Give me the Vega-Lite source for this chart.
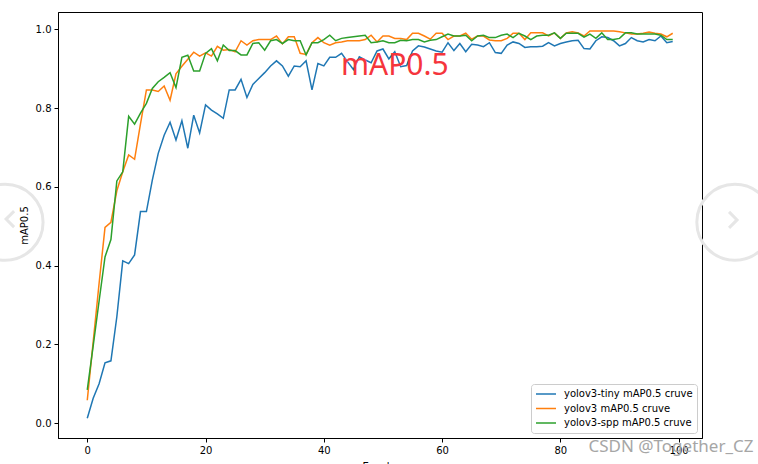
{
  "$schema": "https://vega.github.io/schema/vega-lite/v6.json",
  "autosize": "none",
  "width": 644,
  "height": 426,
  "padding": {"left": 58, "top": 12, "right": 56, "bottom": 26},
  "background": "white",
  "title": {"text": "YOLOV3 Series Different Models mAP0.5 Compare Cruve", "font": "DejaVu Sans", "fontSize": 12, "fontWeight": "normal", "color": "#000000", "baseline": "alphabetic", "offset": 5, "anchor": "middle"},
  "config": {
    "view": {"stroke": "#000000", "strokeWidth": 1},
    "axis": {"domainColor": "#000000", "tickColor": "#000000", "labelColor": "#000000", "titleColor": "#000000", "labelFont": "DejaVu Sans", "titleFont": "DejaVu Sans", "labelFontSize": 10, "titleFontSize": 10, "titleFontWeight": "normal", "grid": false, "tickSize": 4, "labelPadding": 3}
  },
  "layer": [
    {
      "data": {"values": [
        {"epoch": 0, "model": "yolov3-tiny mAP0.5 cruve", "map": 0.012},
        {"epoch": 1, "model": "yolov3-tiny mAP0.5 cruve", "map": 0.063},
        {"epoch": 2, "model": "yolov3-tiny mAP0.5 cruve", "map": 0.100},
        {"epoch": 3, "model": "yolov3-tiny mAP0.5 cruve", "map": 0.153},
        {"epoch": 4, "model": "yolov3-tiny mAP0.5 cruve", "map": 0.158},
        {"epoch": 5, "model": "yolov3-tiny mAP0.5 cruve", "map": 0.270},
        {"epoch": 6, "model": "yolov3-tiny mAP0.5 cruve", "map": 0.412},
        {"epoch": 7, "model": "yolov3-tiny mAP0.5 cruve", "map": 0.405},
        {"epoch": 8, "model": "yolov3-tiny mAP0.5 cruve", "map": 0.427},
        {"epoch": 9, "model": "yolov3-tiny mAP0.5 cruve", "map": 0.537},
        {"epoch": 10, "model": "yolov3-tiny mAP0.5 cruve", "map": 0.537},
        {"epoch": 11, "model": "yolov3-tiny mAP0.5 cruve", "map": 0.617},
        {"epoch": 12, "model": "yolov3-tiny mAP0.5 cruve", "map": 0.685},
        {"epoch": 13, "model": "yolov3-tiny mAP0.5 cruve", "map": 0.731},
        {"epoch": 14, "model": "yolov3-tiny mAP0.5 cruve", "map": 0.764},
        {"epoch": 15, "model": "yolov3-tiny mAP0.5 cruve", "map": 0.719},
        {"epoch": 16, "model": "yolov3-tiny mAP0.5 cruve", "map": 0.768},
        {"epoch": 17, "model": "yolov3-tiny mAP0.5 cruve", "map": 0.698},
        {"epoch": 18, "model": "yolov3-tiny mAP0.5 cruve", "map": 0.782},
        {"epoch": 19, "model": "yolov3-tiny mAP0.5 cruve", "map": 0.737},
        {"epoch": 20, "model": "yolov3-tiny mAP0.5 cruve", "map": 0.808},
        {"epoch": 21, "model": "yolov3-tiny mAP0.5 cruve", "map": 0.795},
        {"epoch": 22, "model": "yolov3-tiny mAP0.5 cruve", "map": 0.785},
        {"epoch": 23, "model": "yolov3-tiny mAP0.5 cruve", "map": 0.774},
        {"epoch": 24, "model": "yolov3-tiny mAP0.5 cruve", "map": 0.846},
        {"epoch": 25, "model": "yolov3-tiny mAP0.5 cruve", "map": 0.846},
        {"epoch": 26, "model": "yolov3-tiny mAP0.5 cruve", "map": 0.873},
        {"epoch": 27, "model": "yolov3-tiny mAP0.5 cruve", "map": 0.827},
        {"epoch": 28, "model": "yolov3-tiny mAP0.5 cruve", "map": 0.860},
        {"epoch": 29, "model": "yolov3-tiny mAP0.5 cruve", "map": 0.875},
        {"epoch": 30, "model": "yolov3-tiny mAP0.5 cruve", "map": 0.890},
        {"epoch": 31, "model": "yolov3-tiny mAP0.5 cruve", "map": 0.907},
        {"epoch": 32, "model": "yolov3-tiny mAP0.5 cruve", "map": 0.920},
        {"epoch": 33, "model": "yolov3-tiny mAP0.5 cruve", "map": 0.907},
        {"epoch": 34, "model": "yolov3-tiny mAP0.5 cruve", "map": 0.881},
        {"epoch": 35, "model": "yolov3-tiny mAP0.5 cruve", "map": 0.907},
        {"epoch": 36, "model": "yolov3-tiny mAP0.5 cruve", "map": 0.905},
        {"epoch": 37, "model": "yolov3-tiny mAP0.5 cruve", "map": 0.920},
        {"epoch": 38, "model": "yolov3-tiny mAP0.5 cruve", "map": 0.846},
        {"epoch": 39, "model": "yolov3-tiny mAP0.5 cruve", "map": 0.913},
        {"epoch": 40, "model": "yolov3-tiny mAP0.5 cruve", "map": 0.907},
        {"epoch": 41, "model": "yolov3-tiny mAP0.5 cruve", "map": 0.929},
        {"epoch": 42, "model": "yolov3-tiny mAP0.5 cruve", "map": 0.929},
        {"epoch": 43, "model": "yolov3-tiny mAP0.5 cruve", "map": 0.939},
        {"epoch": 44, "model": "yolov3-tiny mAP0.5 cruve", "map": 0.918},
        {"epoch": 45, "model": "yolov3-tiny mAP0.5 cruve", "map": 0.898},
        {"epoch": 46, "model": "yolov3-tiny mAP0.5 cruve", "map": 0.930},
        {"epoch": 47, "model": "yolov3-tiny mAP0.5 cruve", "map": 0.922},
        {"epoch": 48, "model": "yolov3-tiny mAP0.5 cruve", "map": 0.915},
        {"epoch": 49, "model": "yolov3-tiny mAP0.5 cruve", "map": 0.945},
        {"epoch": 50, "model": "yolov3-tiny mAP0.5 cruve", "map": 0.950},
        {"epoch": 51, "model": "yolov3-tiny mAP0.5 cruve", "map": 0.925},
        {"epoch": 52, "model": "yolov3-tiny mAP0.5 cruve", "map": 0.943},
        {"epoch": 53, "model": "yolov3-tiny mAP0.5 cruve", "map": 0.905},
        {"epoch": 54, "model": "yolov3-tiny mAP0.5 cruve", "map": 0.908},
        {"epoch": 55, "model": "yolov3-tiny mAP0.5 cruve", "map": 0.945},
        {"epoch": 56, "model": "yolov3-tiny mAP0.5 cruve", "map": 0.958},
        {"epoch": 57, "model": "yolov3-tiny mAP0.5 cruve", "map": 0.955},
        {"epoch": 58, "model": "yolov3-tiny mAP0.5 cruve", "map": 0.950},
        {"epoch": 59, "model": "yolov3-tiny mAP0.5 cruve", "map": 0.945},
        {"epoch": 60, "model": "yolov3-tiny mAP0.5 cruve", "map": 0.942},
        {"epoch": 61, "model": "yolov3-tiny mAP0.5 cruve", "map": 0.966},
        {"epoch": 62, "model": "yolov3-tiny mAP0.5 cruve", "map": 0.946},
        {"epoch": 63, "model": "yolov3-tiny mAP0.5 cruve", "map": 0.964},
        {"epoch": 64, "model": "yolov3-tiny mAP0.5 cruve", "map": 0.943},
        {"epoch": 65, "model": "yolov3-tiny mAP0.5 cruve", "map": 0.962},
        {"epoch": 66, "model": "yolov3-tiny mAP0.5 cruve", "map": 0.960},
        {"epoch": 67, "model": "yolov3-tiny mAP0.5 cruve", "map": 0.956},
        {"epoch": 68, "model": "yolov3-tiny mAP0.5 cruve", "map": 0.966},
        {"epoch": 69, "model": "yolov3-tiny mAP0.5 cruve", "map": 0.941},
        {"epoch": 70, "model": "yolov3-tiny mAP0.5 cruve", "map": 0.939},
        {"epoch": 71, "model": "yolov3-tiny mAP0.5 cruve", "map": 0.960},
        {"epoch": 72, "model": "yolov3-tiny mAP0.5 cruve", "map": 0.968},
        {"epoch": 73, "model": "yolov3-tiny mAP0.5 cruve", "map": 0.964},
        {"epoch": 74, "model": "yolov3-tiny mAP0.5 cruve", "map": 0.954},
        {"epoch": 75, "model": "yolov3-tiny mAP0.5 cruve", "map": 0.956},
        {"epoch": 76, "model": "yolov3-tiny mAP0.5 cruve", "map": 0.956},
        {"epoch": 77, "model": "yolov3-tiny mAP0.5 cruve", "map": 0.957},
        {"epoch": 78, "model": "yolov3-tiny mAP0.5 cruve", "map": 0.966},
        {"epoch": 79, "model": "yolov3-tiny mAP0.5 cruve", "map": 0.958},
        {"epoch": 80, "model": "yolov3-tiny mAP0.5 cruve", "map": 0.964},
        {"epoch": 81, "model": "yolov3-tiny mAP0.5 cruve", "map": 0.968},
        {"epoch": 82, "model": "yolov3-tiny mAP0.5 cruve", "map": 0.971},
        {"epoch": 83, "model": "yolov3-tiny mAP0.5 cruve", "map": 0.972},
        {"epoch": 84, "model": "yolov3-tiny mAP0.5 cruve", "map": 0.951},
        {"epoch": 85, "model": "yolov3-tiny mAP0.5 cruve", "map": 0.950},
        {"epoch": 86, "model": "yolov3-tiny mAP0.5 cruve", "map": 0.971},
        {"epoch": 87, "model": "yolov3-tiny mAP0.5 cruve", "map": 0.981},
        {"epoch": 88, "model": "yolov3-tiny mAP0.5 cruve", "map": 0.979},
        {"epoch": 89, "model": "yolov3-tiny mAP0.5 cruve", "map": 0.971},
        {"epoch": 90, "model": "yolov3-tiny mAP0.5 cruve", "map": 0.958},
        {"epoch": 91, "model": "yolov3-tiny mAP0.5 cruve", "map": 0.964},
        {"epoch": 92, "model": "yolov3-tiny mAP0.5 cruve", "map": 0.979},
        {"epoch": 93, "model": "yolov3-tiny mAP0.5 cruve", "map": 0.971},
        {"epoch": 94, "model": "yolov3-tiny mAP0.5 cruve", "map": 0.968},
        {"epoch": 95, "model": "yolov3-tiny mAP0.5 cruve", "map": 0.974},
        {"epoch": 96, "model": "yolov3-tiny mAP0.5 cruve", "map": 0.971},
        {"epoch": 97, "model": "yolov3-tiny mAP0.5 cruve", "map": 0.983},
        {"epoch": 98, "model": "yolov3-tiny mAP0.5 cruve", "map": 0.966},
        {"epoch": 99, "model": "yolov3-tiny mAP0.5 cruve", "map": 0.969},
        {"epoch": 0, "model": "yolov3 mAP0.5 cruve", "map": 0.058},
        {"epoch": 1, "model": "yolov3 mAP0.5 cruve", "map": 0.206},
        {"epoch": 2, "model": "yolov3 mAP0.5 cruve", "map": 0.355},
        {"epoch": 3, "model": "yolov3 mAP0.5 cruve", "map": 0.497},
        {"epoch": 4, "model": "yolov3 mAP0.5 cruve", "map": 0.510},
        {"epoch": 5, "model": "yolov3 mAP0.5 cruve", "map": 0.590},
        {"epoch": 6, "model": "yolov3 mAP0.5 cruve", "map": 0.638},
        {"epoch": 7, "model": "yolov3 mAP0.5 cruve", "map": 0.681},
        {"epoch": 8, "model": "yolov3 mAP0.5 cruve", "map": 0.670},
        {"epoch": 9, "model": "yolov3 mAP0.5 cruve", "map": 0.760},
        {"epoch": 10, "model": "yolov3 mAP0.5 cruve", "map": 0.846},
        {"epoch": 11, "model": "yolov3 mAP0.5 cruve", "map": 0.846},
        {"epoch": 12, "model": "yolov3 mAP0.5 cruve", "map": 0.842},
        {"epoch": 13, "model": "yolov3 mAP0.5 cruve", "map": 0.856},
        {"epoch": 14, "model": "yolov3 mAP0.5 cruve", "map": 0.820},
        {"epoch": 15, "model": "yolov3 mAP0.5 cruve", "map": 0.887},
        {"epoch": 16, "model": "yolov3 mAP0.5 cruve", "map": 0.906},
        {"epoch": 17, "model": "yolov3 mAP0.5 cruve", "map": 0.924},
        {"epoch": 18, "model": "yolov3 mAP0.5 cruve", "map": 0.942},
        {"epoch": 19, "model": "yolov3 mAP0.5 cruve", "map": 0.932},
        {"epoch": 20, "model": "yolov3 mAP0.5 cruve", "map": 0.940},
        {"epoch": 21, "model": "yolov3 mAP0.5 cruve", "map": 0.932},
        {"epoch": 22, "model": "yolov3 mAP0.5 cruve", "map": 0.957},
        {"epoch": 23, "model": "yolov3 mAP0.5 cruve", "map": 0.947},
        {"epoch": 24, "model": "yolov3 mAP0.5 cruve", "map": 0.949},
        {"epoch": 25, "model": "yolov3 mAP0.5 cruve", "map": 0.943},
        {"epoch": 26, "model": "yolov3 mAP0.5 cruve", "map": 0.971},
        {"epoch": 27, "model": "yolov3 mAP0.5 cruve", "map": 0.960},
        {"epoch": 28, "model": "yolov3 mAP0.5 cruve", "map": 0.971},
        {"epoch": 29, "model": "yolov3 mAP0.5 cruve", "map": 0.974},
        {"epoch": 30, "model": "yolov3 mAP0.5 cruve", "map": 0.974},
        {"epoch": 31, "model": "yolov3 mAP0.5 cruve", "map": 0.974},
        {"epoch": 32, "model": "yolov3 mAP0.5 cruve", "map": 0.983},
        {"epoch": 33, "model": "yolov3 mAP0.5 cruve", "map": 0.963},
        {"epoch": 34, "model": "yolov3 mAP0.5 cruve", "map": 0.981},
        {"epoch": 35, "model": "yolov3 mAP0.5 cruve", "map": 0.981},
        {"epoch": 36, "model": "yolov3 mAP0.5 cruve", "map": 0.939},
        {"epoch": 37, "model": "yolov3 mAP0.5 cruve", "map": 0.936},
        {"epoch": 38, "model": "yolov3 mAP0.5 cruve", "map": 0.966},
        {"epoch": 39, "model": "yolov3 mAP0.5 cruve", "map": 0.979},
        {"epoch": 40, "model": "yolov3 mAP0.5 cruve", "map": 0.966},
        {"epoch": 41, "model": "yolov3 mAP0.5 cruve", "map": 0.960},
        {"epoch": 42, "model": "yolov3 mAP0.5 cruve", "map": 0.966},
        {"epoch": 43, "model": "yolov3 mAP0.5 cruve", "map": 0.968},
        {"epoch": 44, "model": "yolov3 mAP0.5 cruve", "map": 0.971},
        {"epoch": 45, "model": "yolov3 mAP0.5 cruve", "map": 0.971},
        {"epoch": 46, "model": "yolov3 mAP0.5 cruve", "map": 0.971},
        {"epoch": 47, "model": "yolov3 mAP0.5 cruve", "map": 0.974},
        {"epoch": 48, "model": "yolov3 mAP0.5 cruve", "map": 0.985},
        {"epoch": 49, "model": "yolov3 mAP0.5 cruve", "map": 0.968},
        {"epoch": 50, "model": "yolov3 mAP0.5 cruve", "map": 0.983},
        {"epoch": 51, "model": "yolov3 mAP0.5 cruve", "map": 0.983},
        {"epoch": 52, "model": "yolov3 mAP0.5 cruve", "map": 0.977},
        {"epoch": 53, "model": "yolov3 mAP0.5 cruve", "map": 0.977},
        {"epoch": 54, "model": "yolov3 mAP0.5 cruve", "map": 0.974},
        {"epoch": 55, "model": "yolov3 mAP0.5 cruve", "map": 0.990},
        {"epoch": 56, "model": "yolov3 mAP0.5 cruve", "map": 0.990},
        {"epoch": 57, "model": "yolov3 mAP0.5 cruve", "map": 0.983},
        {"epoch": 58, "model": "yolov3 mAP0.5 cruve", "map": 0.975},
        {"epoch": 59, "model": "yolov3 mAP0.5 cruve", "map": 0.990},
        {"epoch": 60, "model": "yolov3 mAP0.5 cruve", "map": 0.990},
        {"epoch": 61, "model": "yolov3 mAP0.5 cruve", "map": 0.974},
        {"epoch": 62, "model": "yolov3 mAP0.5 cruve", "map": 0.983},
        {"epoch": 63, "model": "yolov3 mAP0.5 cruve", "map": 0.983},
        {"epoch": 64, "model": "yolov3 mAP0.5 cruve", "map": 0.990},
        {"epoch": 65, "model": "yolov3 mAP0.5 cruve", "map": 0.975},
        {"epoch": 66, "model": "yolov3 mAP0.5 cruve", "map": 0.983},
        {"epoch": 67, "model": "yolov3 mAP0.5 cruve", "map": 0.983},
        {"epoch": 68, "model": "yolov3 mAP0.5 cruve", "map": 0.973},
        {"epoch": 69, "model": "yolov3 mAP0.5 cruve", "map": 0.971},
        {"epoch": 70, "model": "yolov3 mAP0.5 cruve", "map": 0.971},
        {"epoch": 71, "model": "yolov3 mAP0.5 cruve", "map": 0.977},
        {"epoch": 72, "model": "yolov3 mAP0.5 cruve", "map": 0.990},
        {"epoch": 73, "model": "yolov3 mAP0.5 cruve", "map": 0.990},
        {"epoch": 74, "model": "yolov3 mAP0.5 cruve", "map": 0.974},
        {"epoch": 75, "model": "yolov3 mAP0.5 cruve", "map": 0.991},
        {"epoch": 76, "model": "yolov3 mAP0.5 cruve", "map": 0.991},
        {"epoch": 77, "model": "yolov3 mAP0.5 cruve", "map": 0.991},
        {"epoch": 78, "model": "yolov3 mAP0.5 cruve", "map": 0.983},
        {"epoch": 79, "model": "yolov3 mAP0.5 cruve", "map": 0.991},
        {"epoch": 80, "model": "yolov3 mAP0.5 cruve", "map": 0.977},
        {"epoch": 81, "model": "yolov3 mAP0.5 cruve", "map": 0.991},
        {"epoch": 82, "model": "yolov3 mAP0.5 cruve", "map": 0.994},
        {"epoch": 83, "model": "yolov3 mAP0.5 cruve", "map": 0.991},
        {"epoch": 84, "model": "yolov3 mAP0.5 cruve", "map": 0.983},
        {"epoch": 85, "model": "yolov3 mAP0.5 cruve", "map": 0.996},
        {"epoch": 86, "model": "yolov3 mAP0.5 cruve", "map": 0.996},
        {"epoch": 87, "model": "yolov3 mAP0.5 cruve", "map": 0.996},
        {"epoch": 88, "model": "yolov3 mAP0.5 cruve", "map": 0.996},
        {"epoch": 89, "model": "yolov3 mAP0.5 cruve", "map": 0.996},
        {"epoch": 90, "model": "yolov3 mAP0.5 cruve", "map": 0.994},
        {"epoch": 91, "model": "yolov3 mAP0.5 cruve", "map": 0.991},
        {"epoch": 92, "model": "yolov3 mAP0.5 cruve", "map": 0.988},
        {"epoch": 93, "model": "yolov3 mAP0.5 cruve", "map": 0.988},
        {"epoch": 94, "model": "yolov3 mAP0.5 cruve", "map": 0.990},
        {"epoch": 95, "model": "yolov3 mAP0.5 cruve", "map": 0.993},
        {"epoch": 96, "model": "yolov3 mAP0.5 cruve", "map": 0.990},
        {"epoch": 97, "model": "yolov3 mAP0.5 cruve", "map": 0.988},
        {"epoch": 98, "model": "yolov3 mAP0.5 cruve", "map": 0.981},
        {"epoch": 99, "model": "yolov3 mAP0.5 cruve", "map": 0.990},
        {"epoch": 0, "model": "yolov3-spp mAP0.5 cruve", "map": 0.084},
        {"epoch": 1, "model": "yolov3-spp mAP0.5 cruve", "map": 0.196},
        {"epoch": 2, "model": "yolov3-spp mAP0.5 cruve", "map": 0.310},
        {"epoch": 3, "model": "yolov3-spp mAP0.5 cruve", "map": 0.422},
        {"epoch": 4, "model": "yolov3-spp mAP0.5 cruve", "map": 0.466},
        {"epoch": 5, "model": "yolov3-spp mAP0.5 cruve", "map": 0.615},
        {"epoch": 6, "model": "yolov3-spp mAP0.5 cruve", "map": 0.638},
        {"epoch": 7, "model": "yolov3-spp mAP0.5 cruve", "map": 0.779},
        {"epoch": 8, "model": "yolov3-spp mAP0.5 cruve", "map": 0.759},
        {"epoch": 9, "model": "yolov3-spp mAP0.5 cruve", "map": 0.787},
        {"epoch": 10, "model": "yolov3-spp mAP0.5 cruve", "map": 0.812},
        {"epoch": 11, "model": "yolov3-spp mAP0.5 cruve", "map": 0.850},
        {"epoch": 12, "model": "yolov3-spp mAP0.5 cruve", "map": 0.867},
        {"epoch": 13, "model": "yolov3-spp mAP0.5 cruve", "map": 0.878},
        {"epoch": 14, "model": "yolov3-spp mAP0.5 cruve", "map": 0.890},
        {"epoch": 15, "model": "yolov3-spp mAP0.5 cruve", "map": 0.852},
        {"epoch": 16, "model": "yolov3-spp mAP0.5 cruve", "map": 0.929},
        {"epoch": 17, "model": "yolov3-spp mAP0.5 cruve", "map": 0.934},
        {"epoch": 18, "model": "yolov3-spp mAP0.5 cruve", "map": 0.894},
        {"epoch": 19, "model": "yolov3-spp mAP0.5 cruve", "map": 0.894},
        {"epoch": 20, "model": "yolov3-spp mAP0.5 cruve", "map": 0.939},
        {"epoch": 21, "model": "yolov3-spp mAP0.5 cruve", "map": 0.951},
        {"epoch": 22, "model": "yolov3-spp mAP0.5 cruve", "map": 0.920},
        {"epoch": 23, "model": "yolov3-spp mAP0.5 cruve", "map": 0.960},
        {"epoch": 24, "model": "yolov3-spp mAP0.5 cruve", "map": 0.946},
        {"epoch": 25, "model": "yolov3-spp mAP0.5 cruve", "map": 0.946},
        {"epoch": 26, "model": "yolov3-spp mAP0.5 cruve", "map": 0.935},
        {"epoch": 27, "model": "yolov3-spp mAP0.5 cruve", "map": 0.935},
        {"epoch": 28, "model": "yolov3-spp mAP0.5 cruve", "map": 0.964},
        {"epoch": 29, "model": "yolov3-spp mAP0.5 cruve", "map": 0.966},
        {"epoch": 30, "model": "yolov3-spp mAP0.5 cruve", "map": 0.947},
        {"epoch": 31, "model": "yolov3-spp mAP0.5 cruve", "map": 0.971},
        {"epoch": 32, "model": "yolov3-spp mAP0.5 cruve", "map": 0.974},
        {"epoch": 33, "model": "yolov3-spp mAP0.5 cruve", "map": 0.964},
        {"epoch": 34, "model": "yolov3-spp mAP0.5 cruve", "map": 0.974},
        {"epoch": 35, "model": "yolov3-spp mAP0.5 cruve", "map": 0.971},
        {"epoch": 36, "model": "yolov3-spp mAP0.5 cruve", "map": 0.971},
        {"epoch": 37, "model": "yolov3-spp mAP0.5 cruve", "map": 0.935},
        {"epoch": 38, "model": "yolov3-spp mAP0.5 cruve", "map": 0.966},
        {"epoch": 39, "model": "yolov3-spp mAP0.5 cruve", "map": 0.966},
        {"epoch": 40, "model": "yolov3-spp mAP0.5 cruve", "map": 0.974},
        {"epoch": 41, "model": "yolov3-spp mAP0.5 cruve", "map": 0.985},
        {"epoch": 42, "model": "yolov3-spp mAP0.5 cruve", "map": 0.971},
        {"epoch": 43, "model": "yolov3-spp mAP0.5 cruve", "map": 0.977},
        {"epoch": 44, "model": "yolov3-spp mAP0.5 cruve", "map": 0.979},
        {"epoch": 45, "model": "yolov3-spp mAP0.5 cruve", "map": 0.981},
        {"epoch": 46, "model": "yolov3-spp mAP0.5 cruve", "map": 0.983},
        {"epoch": 47, "model": "yolov3-spp mAP0.5 cruve", "map": 0.985},
        {"epoch": 48, "model": "yolov3-spp mAP0.5 cruve", "map": 0.966},
        {"epoch": 49, "model": "yolov3-spp mAP0.5 cruve", "map": 0.968},
        {"epoch": 50, "model": "yolov3-spp mAP0.5 cruve", "map": 0.971},
        {"epoch": 51, "model": "yolov3-spp mAP0.5 cruve", "map": 0.966},
        {"epoch": 52, "model": "yolov3-spp mAP0.5 cruve", "map": 0.966},
        {"epoch": 53, "model": "yolov3-spp mAP0.5 cruve", "map": 0.972},
        {"epoch": 54, "model": "yolov3-spp mAP0.5 cruve", "map": 0.971},
        {"epoch": 55, "model": "yolov3-spp mAP0.5 cruve", "map": 0.974},
        {"epoch": 56, "model": "yolov3-spp mAP0.5 cruve", "map": 0.974},
        {"epoch": 57, "model": "yolov3-spp mAP0.5 cruve", "map": 0.968},
        {"epoch": 58, "model": "yolov3-spp mAP0.5 cruve", "map": 0.972},
        {"epoch": 59, "model": "yolov3-spp mAP0.5 cruve", "map": 0.974},
        {"epoch": 60, "model": "yolov3-spp mAP0.5 cruve", "map": 0.981},
        {"epoch": 61, "model": "yolov3-spp mAP0.5 cruve", "map": 0.988},
        {"epoch": 62, "model": "yolov3-spp mAP0.5 cruve", "map": 0.983},
        {"epoch": 63, "model": "yolov3-spp mAP0.5 cruve", "map": 0.983},
        {"epoch": 64, "model": "yolov3-spp mAP0.5 cruve", "map": 0.985},
        {"epoch": 65, "model": "yolov3-spp mAP0.5 cruve", "map": 0.971},
        {"epoch": 66, "model": "yolov3-spp mAP0.5 cruve", "map": 0.983},
        {"epoch": 67, "model": "yolov3-spp mAP0.5 cruve", "map": 0.985},
        {"epoch": 68, "model": "yolov3-spp mAP0.5 cruve", "map": 0.979},
        {"epoch": 69, "model": "yolov3-spp mAP0.5 cruve", "map": 0.979},
        {"epoch": 70, "model": "yolov3-spp mAP0.5 cruve", "map": 0.985},
        {"epoch": 71, "model": "yolov3-spp mAP0.5 cruve", "map": 0.988},
        {"epoch": 72, "model": "yolov3-spp mAP0.5 cruve", "map": 0.979},
        {"epoch": 73, "model": "yolov3-spp mAP0.5 cruve", "map": 0.990},
        {"epoch": 74, "model": "yolov3-spp mAP0.5 cruve", "map": 0.983},
        {"epoch": 75, "model": "yolov3-spp mAP0.5 cruve", "map": 0.974},
        {"epoch": 76, "model": "yolov3-spp mAP0.5 cruve", "map": 0.983},
        {"epoch": 77, "model": "yolov3-spp mAP0.5 cruve", "map": 0.985},
        {"epoch": 78, "model": "yolov3-spp mAP0.5 cruve", "map": 0.985},
        {"epoch": 79, "model": "yolov3-spp mAP0.5 cruve", "map": 0.991},
        {"epoch": 80, "model": "yolov3-spp mAP0.5 cruve", "map": 0.977},
        {"epoch": 81, "model": "yolov3-spp mAP0.5 cruve", "map": 0.990},
        {"epoch": 82, "model": "yolov3-spp mAP0.5 cruve", "map": 0.990},
        {"epoch": 83, "model": "yolov3-spp mAP0.5 cruve", "map": 0.990},
        {"epoch": 84, "model": "yolov3-spp mAP0.5 cruve", "map": 0.980},
        {"epoch": 85, "model": "yolov3-spp mAP0.5 cruve", "map": 0.988},
        {"epoch": 86, "model": "yolov3-spp mAP0.5 cruve", "map": 0.977},
        {"epoch": 87, "model": "yolov3-spp mAP0.5 cruve", "map": 0.991},
        {"epoch": 88, "model": "yolov3-spp mAP0.5 cruve", "map": 0.974},
        {"epoch": 89, "model": "yolov3-spp mAP0.5 cruve", "map": 0.974},
        {"epoch": 90, "model": "yolov3-spp mAP0.5 cruve", "map": 0.977},
        {"epoch": 91, "model": "yolov3-spp mAP0.5 cruve", "map": 0.991},
        {"epoch": 92, "model": "yolov3-spp mAP0.5 cruve", "map": 0.991},
        {"epoch": 93, "model": "yolov3-spp mAP0.5 cruve", "map": 0.988},
        {"epoch": 94, "model": "yolov3-spp mAP0.5 cruve", "map": 0.988},
        {"epoch": 95, "model": "yolov3-spp mAP0.5 cruve", "map": 0.988},
        {"epoch": 96, "model": "yolov3-spp mAP0.5 cruve", "map": 0.988},
        {"epoch": 97, "model": "yolov3-spp mAP0.5 cruve", "map": 0.985},
        {"epoch": 98, "model": "yolov3-spp mAP0.5 cruve", "map": 0.974},
        {"epoch": 99, "model": "yolov3-spp mAP0.5 cruve", "map": 0.974}
      ]},
      "mark": {"type": "line", "strokeWidth": 1.5},
      "encoding": {
        "x": {"field": "epoch", "type": "quantitative", "scale": {"domain": [-4.95, 103.95], "nice": false, "zero": false}, "axis": {"values": [0, 20, 40, 60, 80, 100], "title": "Epochs", "titlePadding": 6}},
        "y": {"field": "map", "type": "quantitative", "scale": {"domain": [-0.038, 1.044], "nice": false, "zero": false}, "axis": {"values": [0, 0.2, 0.4, 0.6, 0.8, 1.0], "format": ".1f", "title": "mAP0.5", "titlePadding": 6}},
        "color": {"field": "model", "type": "nominal", "sort": null,
          "scale": {"domain": ["yolov3-tiny mAP0.5 cruve", "yolov3 mAP0.5 cruve", "yolov3-spp mAP0.5 cruve"], "range": ["#1f77b4", "#ff7f0e", "#2ca02c"]},
          "legend": {"title": null, "orient": "bottom-right", "offset": 5, "symbolType": "stroke", "symbolStrokeWidth": 1.5, "symbolSize": 400, "labelFont": "DejaVu Sans", "labelFontSize": 10, "labelColor": "#000000", "strokeColor": "#cccccc", "fillColor": "white", "padding": 4, "cornerRadius": 3, "rowPadding": 2.5, "clipHeight": 12, "labelOffset": 7}
        }
      }
    },
    {
      "data": {"values": [{"epoch": 52, "map": 0.884, "label": "mAP0.5"}]},
      "mark": {"type": "text", "font": "Noto Sans", "fontSize": 30, "color": "#f5353c", "align": "center", "baseline": "alphabetic"},
      "encoding": {"x": {"field": "epoch", "type": "quantitative"}, "y": {"field": "map", "type": "quantitative"}, "text": {"field": "label"}}
    },
    {
      "data": {"values": [{"epoch": 84.75, "map": -0.0737, "label": "CSDN @Together_CZ"}]},
      "mark": {"type": "text", "font": "Noto Sans", "fontSize": 17, "color": "#a6a6a6", "align": "left", "baseline": "alphabetic"},
      "encoding": {"x": {"field": "epoch", "type": "quantitative"}, "y": {"field": "map", "type": "quantitative"}, "text": {"field": "label"}}
    },
    {
      "data": {"values": [{"epoch": -13.9, "map": 0.51}, {"epoch": 109.5, "map": 0.51}]},
      "mark": {"type": "point", "shape": "circle", "size": 5776, "filled": false, "stroke": "#e6e6e6", "strokeWidth": 3, "opacity": 1},
      "encoding": {"x": {"field": "epoch", "type": "quantitative"}, "y": {"field": "map", "type": "quantitative"}}
    },
    {
      "data": {"values": [{"epoch": -13.05, "map": 0.518, "dir": "l"}]},
      "mark": {"type": "point", "shape": "M 0.25 -0.5 L -0.25 0 L 0.25 0.5", "size": 1024, "filled": false, "stroke": "#e6e6e6", "strokeWidth": 3, "opacity": 1},
      "encoding": {"x": {"field": "epoch", "type": "quantitative"}, "y": {"field": "map", "type": "quantitative"}}
    },
    {
      "data": {"values": [{"epoch": 109.2, "map": 0.516, "dir": "r"}]},
      "mark": {"type": "point", "shape": "M -0.25 -0.5 L 0.25 0 L -0.25 0.5", "size": 1024, "filled": false, "stroke": "#e6e6e6", "strokeWidth": 3, "opacity": 1},
      "encoding": {"x": {"field": "epoch", "type": "quantitative"}, "y": {"field": "map", "type": "quantitative"}}
    }
  ]
}
